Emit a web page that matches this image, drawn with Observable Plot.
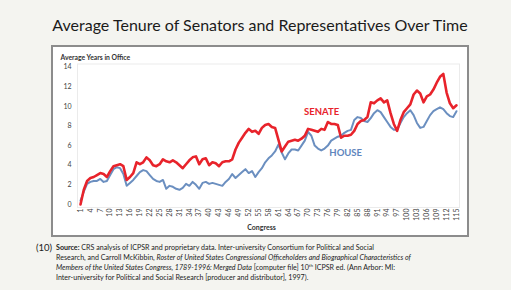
<!DOCTYPE html>
<html>
<head>
<meta charset="utf-8">
<script src="https://cdn.jsdelivr.net/npm/d3@7"></script>
<script src="https://cdn.jsdelivr.net/npm/@observablehq/plot@0.6"></script>
<style>
  html, body { margin: 0; padding: 0; }
  body { width: 511px; height: 290px; background: #f4f4f0; position: relative; overflow: hidden; font-family: Lato, "Open Sans", sans-serif; }
  #title { position: absolute; left: 52px; top: 15px; width: 416px; text-align: center; font-size: 16px; color: #1b1b1b; white-space: nowrap; }
  #box { position: absolute; left: 52px; top: 46px; width: 416px; height: 190px; }
  #box svg { display: block; }
  #boxborder { position: absolute; left: 51px; top: 45px; width: 414px; height: 188px; border: 2px solid #8c8c8c; pointer-events: none; }
  #num { position: absolute; left: 36px; top: 242px; font-size: 9.5px; color: #222; }
  #source { position: absolute; left: 56px; top: 243px; font-size: 7.1px; line-height: 10px; color: #222; white-space: nowrap; }
  #source sup { font-size: 4.5px; line-height: 0; vertical-align: 3px; }
</style>
</head>
<body>
<div id="title">Average Tenure of Senators and Representatives Over Time</div>
<div id="box"></div>
<div id="boxborder"></div>
<div id="num">(10)</div>
<div id="source"><b>Source:</b> CRS analysis of ICPSR and proprietary data. Inter-university Consortium for Political and Social<br>Research, and Carroll McKibbin, <i>Roster of United States Congressional Officeholders and Biographical Characteristics of</i><br><i>Members of the United States Congress, 1789-1996: Merged Data</i> [computer file] 10<sup>th</sup> ICPSR ed. (Ann Arbor: MI:<br>Inter-university for Political and Social Research [producer and distributor], 1997).</div>
<script>
const congress = [1,2,3,4,5,6,7,8,9,10,11,12,13,14,15,16,17,18,19,20,21,22,23,24,25,26,27,28,29,30,31,32,33,34,35,36,37,38,39,40,41,42,43,44,45,46,47,48,49,50,51,52,53,54,55,56,57,58,59,60,61,62,63,64,65,66,67,68,69,70,71,72,73,74,75,76,77,78,79,80,81,82,83,84,85,86,87,88,89,90,91,92,93,94,95,96,97,98,99,100,101,102,103,104,105,106,107,108,109,110,111,112,113,114,115];

const senate = [0,1.5,2.4,2.7,2.8,3.0,3.2,3.1,2.8,3.4,3.9,4.0,4.1,3.9,2.5,2.8,3.2,4.3,4.1,4.3,4.8,4.5,4.0,3.9,4.1,4.6,4.4,4.3,4.5,4.3,4.0,3.7,4.1,4.5,4.8,4.9,4.1,4.6,4.7,4.0,4.3,4.2,3.9,4.3,4.4,4.4,4.6,5.6,6.3,6.8,7.3,7.7,7.4,7.5,7.2,7.8,8.1,8.2,7.9,7.8,6.6,5.4,5.9,6.4,6.5,6.6,6.5,6.7,7.0,7.7,7.6,7.5,7.4,7.7,7.6,8.4,8.2,8.2,8.1,6.8,7.0,7.0,7.1,7.5,8.2,8.5,8.6,8.9,10.4,10.3,10.6,10.8,10.4,10.6,9.3,8.2,7.5,8.6,9.4,9.8,10.2,11.2,11.6,11.3,10.4,11.0,11.2,11.7,12.4,13.0,13.3,11.4,10.3,9.8,10.1];

const house = [0.4,1.3,2.1,2.3,2.4,2.4,2.6,2.3,2.4,3.0,3.6,3.8,3.7,3.1,1.9,2.2,2.5,2.9,3.3,3.5,3.4,3.0,2.6,2.4,2.3,2.5,1.6,1.9,1.8,1.6,1.5,1.7,2.1,1.9,2.3,2.0,1.6,2.2,2.3,2.1,2.2,2.1,2.0,1.9,2.3,2.6,3.1,2.7,3.0,3.3,3.6,3.2,3.4,2.8,3.3,3.7,4.3,4.7,5.0,5.4,6.1,5.3,4.6,5.2,5.6,5.6,5.5,6.0,6.5,7.4,7.0,6.0,5.7,5.5,5.7,6.0,6.5,6.7,6.9,7.0,7.3,7.5,7.6,8.6,8.9,8.8,8.5,8.4,8.8,9.3,9.6,9.4,8.9,8.4,7.9,7.6,7.6,8.3,8.9,9.3,9.6,9.1,8.3,7.8,7.9,8.5,9.1,9.5,9.7,9.9,9.7,9.3,9.0,8.9,9.5];

const xTicks = [1,4,7,10,13,16,19,22,25,28,31,34,37,40,43,46,49,52,55,58,61,64,67,70,73,76,79,82,85,88,91,94,97,100,103,106,109,112,115];
const yTicks = [0,2,4,6,8,10,12,14];

const seriesLabels = [
  {name: "SENATE", congress: 74.1, value: 9.4, color: "#e8232b"},
  {name: "HOUSE", congress: 81.4, value: 5.2, color: "#5f86bd"}
];

const senateData = congress.map((c, i) => ({congress: c, value: senate[i]}));
const houseData = congress.map((c, i) => ({congress: c, value: house[i]}));

const chart = Plot.plot({
  width: 416,
  height: 190,
  marginLeft: 28,
  marginRight: 12,
  marginTop: 20.5,
  marginBottom: 32,
  style: {background: "white", fontFamily: "Lato, 'Open Sans', sans-serif", fontSize: "7px", color: "#444", overflow: "visible"},
  x: {domain: [1, 115], ticks: xTicks, tickFormat: d => String(d), tickRotate: -90, tickSize: 0, tickPadding: 4, label: null},
  y: {domain: [0, 14], ticks: yTicks, tickFormat: d => String(d), tickSize: 0, tickPadding: 9, label: null},
  marks: [
    Plot.frame({stroke: "#ebebeb", inset: -3}),
    Plot.line(houseData, {x: "congress", y: "value", stroke: "#6b8fc0", strokeWidth: 2, curve: "linear"}),
    Plot.line(senateData, {x: "congress", y: "value", stroke: "#e8232b", strokeWidth: 2.6, curve: "linear"}),
    Plot.text(seriesLabels, {x: "congress", y: "value", text: "name", fill: "color", fontWeight: "bold", fontSize: 9.5}),
    Plot.text(["Average Years in Office"], {text: d => d, frameAnchor: "top-left", dx: -20, dy: -12, textAnchor: "start", fontWeight: "bold", fontSize: 6.8, fill: "#333"}),
    Plot.text(["Congress"], {text: d => d, frameAnchor: "bottom", dx: -7, dy: 25, fontWeight: "bold", fontSize: 7, fill: "#333"})
  ]
});
document.getElementById("box").appendChild(chart);
</script>
</body>
</html>
